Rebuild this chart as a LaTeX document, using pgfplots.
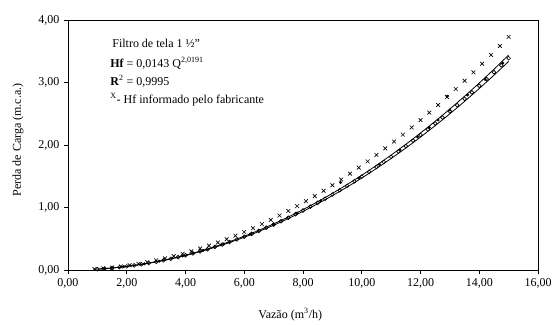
\documentclass[border=0pt]{standalone}
\usepackage{pgfplots}
\pgfplotsset{compat=1.18}
\usepackage{fontspec}
\setmainfont{Liberation Serif}
\begin{document}
\begin{tikzpicture}[x=1pt,y=1pt]
\path[use as bounding box] (-51,-40.5) rectangle (365.25,202.5);
\begin{axis}[
  at={(0,0)}, anchor=south west,
  scale only axis, width=352.5pt, height=187.5pt,
  xmin=0, xmax=16, ymin=0, ymax=4,
  xtick={0,2,...,16}, ytick={0,1,...,4},
  tick pos=left, tick align=outside,
  major tick length=3pt,
  axis line style={line width=0.7pt},
  every tick/.style={black, line width=0.7pt},
  /pgf/number format/.cd, fixed, fixed zerofill, precision=2, use comma, assume math mode=true,
  /pgfplots/.cd,
  ticklabel style={font=\fontsize{9}{11}\selectfont},
  xlabel={Vazão (m\textsuperscript{3}/h)},
  ylabel={Perda de Carga (m.c.a.)},
  label style={font=\fontsize{9}{11}\selectfont},
  xlabel style={at={(axis description cs:0.473,-0.18)}, anchor=center},
  ylabel style={at={(axis description cs:-0.1064,0.52)}, anchor=center},
  clip=false,
]
% upper line
\addplot[black, line width=0.6pt, smooth] coordinates {
(1,0.0145)(1.5,0.0329)(2,0.0589)(2.5,0.0924)(3,0.1334)(3.5,0.1821)(4,0.2384)(4.5,0.3025)(5,0.3742)(5.5,0.4536)(6,0.5407)(6.5,0.6356)(7,0.7381)(7.5,0.8484)(8,0.9666)(8.5,1.0924)(9,1.2260)(9.5,1.3675)(10,1.5167)(10.5,1.6737)(11,1.8386)(11.5,2.0112)(12,2.1917)(12.5,2.3800)(13,2.5761)(13.5,2.7801)(14,2.9919)(14.5,3.2116)(15,3.4391)};
% lower line
\addplot[black, line width=0.6pt, smooth] coordinates {
(1,0.0141)(1.5,0.0319)(2,0.0571)(2.5,0.0896)(3,0.1294)(3.5,0.1767)(4,0.2314)(4.5,0.2935)(5,0.3632)(5.5,0.4402)(6,0.5247)(6.5,0.6168)(7,0.7163)(7.5,0.8234)(8,0.9380)(8.5,1.0602)(9,1.1898)(9.5,1.3271)(10,1.4719)(10.5,1.6243)(11,1.7842)(11.5,1.9518)(12,2.1269)(12.5,2.3096)(13,2.4999)(13.5,2.6979)(14,2.9035)(14.5,3.1166)(15,3.3375)};
% measured (open circles)
\addplot[only marks, mark=o, mark size=1.4pt, mark options={black, line width=0.5pt}] coordinates {
(1,0.0143)(1.25,0.0225)(1.5,0.0324)(1.75,0.0443)(2,0.0580)(2.25,0.0736)(2.5,0.0910)(2.75,0.1103)(3,0.1314)(3.25,0.1545)(3.5,0.1794)(3.75,0.2063)(4,0.2349)(4.25,0.2656)(4.5,0.2980)(4.75,0.3325)(5,0.3687)(5.25,0.4069)(5.5,0.4469)(5.75,0.4889)(6,0.5327)(6.25,0.5786)(6.5,0.6262)(6.75,0.6758)(7,0.7272)(7.25,0.7807)(7.5,0.8359)(7.75,0.8932)(8,0.9523)(8.25,1.0134)(8.5,1.0763)(8.75,1.1412)(9,1.2079)(9.25,1.2767)(9.5,1.3473)(9.75,1.4199)(10,1.4943)(10.25,1.5708)(10.5,1.6490)(10.75,1.7293)(11,1.8114)(11.25,1.8956)(11.5,1.9815)(11.75,2.0695)(12,2.1593)(12.25,2.2512)(12.5,2.3448)(12.75,2.4405)(13,2.5380)(13.25,2.6376)(13.5,2.7390)(13.75,2.8425)(14,2.9477)(14.25,3.0550)(14.5,3.1641)(14.75,3.2753)(15,3.3883)};
% measured (filled dots)
\addplot[only marks, mark=*, mark size=0.9pt, mark options={black}] coordinates {
(1.9,0.055)(2.6,0.099)(3.1,0.141)(3.9,0.225)(4.6,0.315)(5.3,0.416)(6.2,0.574)(7.0,0.735)(7.8,0.912)(8.6,1.108)(9.28,1.40)(9.9,1.47)(10.6,1.69)(11.3,1.92)(11.9,2.13)(12.3,2.28)(12.6,2.40)(12.91,2.78)(13.0,2.56)(13.6,2.80)(14.2,3.05)(14.8,3.31)};
% manufacturer (x)
\addplot[only marks, mark=x, mark size=2pt, mark options={black, line width=0.5pt}] coordinates {
(0.9,0.0142)(1.2,0.0251)(1.5,0.0391)(1.8,0.0560)(2.1,0.0760)(2.4,0.0991)(2.7,0.1251)(3.0,0.1541)(3.3,0.1861)(3.6,0.2211)(3.9,0.2590)(4.2,0.3000)(4.5,0.3439)(4.8,0.3908)(5.1,0.4406)(5.4,0.4934)(5.7,0.5491)(6.0,0.6078)(6.3,0.6695)(6.6,0.7341)(6.9,0.8016)(7.2,0.8721)(7.5,0.9455)(7.8,1.0218)(8.1,1.1011)(8.4,1.1834)(8.7,1.2685)(9.0,1.3566)(9.3,1.4475)(9.6,1.5415)(9.9,1.6383)(10.2,1.7381)(10.5,1.8407)(10.8,1.9463)(11.1,2.0548)(11.4,2.1662)(11.7,2.2806)(12.0,2.3978)(12.3,2.5180)(12.6,2.6410)(12.9,2.7670)(13.2,2.8959)(13.5,3.0276)(13.8,3.1623)(14.1,3.2998)(14.4,3.4403)(14.7,3.5836)(15.0,3.7299)};
\node[anchor=west, font=\fontsize{9}{11}\selectfont, inner sep=0pt] at (axis cs:1.5,3.632) {Filtro de tela 1 ½"};
\node[anchor=west, font=\fontsize{9}{11}\selectfont, inner sep=0pt] at (axis cs:1.43,3.312) {\textbf{Hf} = 0,0143 Q\textsuperscript{2,0191}};
\node[anchor=west, font=\fontsize{9}{11}\selectfont, inner sep=0pt] at (axis cs:1.43,3.024) {\textbf{R}\textsuperscript{2} = 0,9995};
\node[anchor=west, font=\fontsize{9}{11}\selectfont, inner sep=0pt] at (axis cs:1.43,2.72) {\textsuperscript{X}- Hf informado pelo fabricante};
\end{axis}
\end{tikzpicture}
\end{document}
